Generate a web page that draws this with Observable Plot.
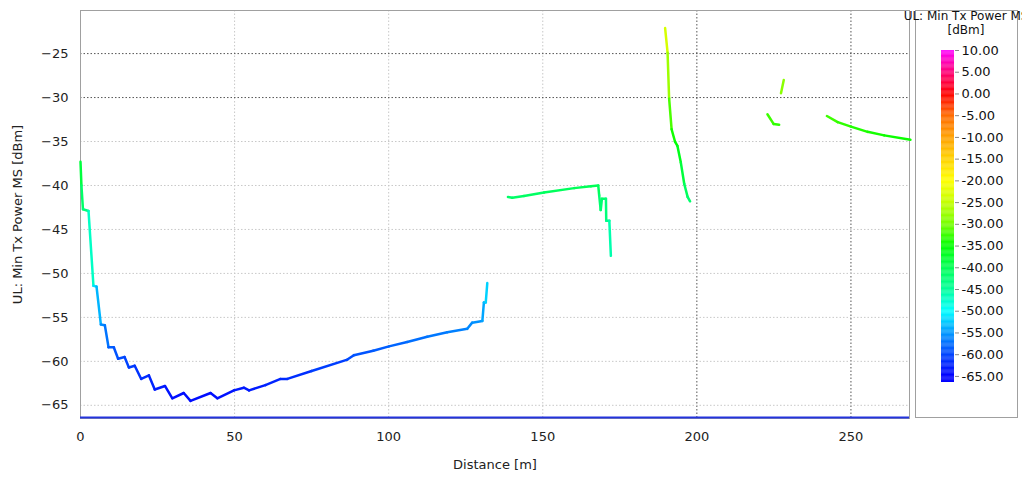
<!DOCTYPE html>
<html><head><meta charset="utf-8">
<script src="https://cdn.jsdelivr.net/npm/d3@7"></script>
<script src="https://cdn.jsdelivr.net/npm/@observablehq/plot@0.6"></script>
<style>
body{margin:0;background:#fff;font-family:"DejaVu Sans",sans-serif;}
#wrap{position:relative;width:1022px;height:479px;overflow:hidden;}
#chart{position:absolute;left:0;top:0;}
#lbox{position:absolute;left:915px;top:10px;width:103px;height:408px;border:1px solid #a0a0a0;box-sizing:border-box;}
#legend{position:absolute;left:915px;top:10px;}
#ltitle{position:absolute;left:966px;top:9px;transform:translateX(-50%);white-space:nowrap;text-align:center;font-size:12px;line-height:14px;color:#111;}
</style></head><body>
<div id="wrap"><div id="chart"></div><div id="lbox"></div><div id="legend"></div>
<div id="ltitle">UL: Min Tx Power MS<br>[dBm]</div></div>
<script>
// Segment data: distance [m] and UL Min Tx Power MS [dBm]
const seg1Distance = [0, 0.3, 0.8, 2.6, 4.2, 5.2, 6.6, 7.9, 9.1, 10.8, 12.2, 14.3, 15.7, 17.6, 19.7, 22.2, 24.1, 27.4, 29.8, 33.5, 35.7, 42.2, 44.4, 49.8, 53.0, 54.7, 60.0, 64.9, 67.1, 75.0, 86.6, 88.7, 95.0, 100.1, 106.0, 112.5, 119.0, 125.5, 127.1, 130.4, 130.9, 131.5, 132.0];
const seg1Power    = [-37.3, -40.0, -42.7, -42.9, -51.4, -51.5, -55.8, -55.9, -58.4, -58.4, -59.7, -59.5, -60.7, -60.5, -62.0, -61.6, -63.2, -62.8, -64.2, -63.6, -64.5, -63.6, -64.2, -63.3, -63.0, -63.3, -62.7, -62.0, -62.0, -61.1, -59.8, -59.3, -58.8, -58.3, -57.8, -57.2, -56.7, -56.3, -55.6, -55.4, -53.3, -53.3, -51.1];
const seg2Distance = [138.7, 140.1, 143.9, 150.4, 160.2, 165.6, 168.0, 168.3, 168.8, 169.2, 170.5, 170.6, 171.6, 172.1];
const seg2Power    = [-41.3, -41.4, -41.2, -40.8, -40.3, -40.1, -40.0, -41.1, -42.8, -41.5, -41.5, -44.0, -44.0, -48.0];
const seg3Distance = [189.7, 190.5, 191.0, 191.8, 192.9, 193.7, 194.8, 195.9, 197.0, 197.8];
const seg3Power    = [-22.1, -24.9, -30.1, -33.6, -35.0, -35.5, -37.4, -39.8, -41.3, -41.8];
const seg4Distance = [222.9, 224.9, 226.7];
const seg4Power    = [-31.9, -33.0, -33.1];
const seg5Distance = [227.3, 228.2];
const seg5Power    = [-29.5, -28.0];
const seg6Distance = [242.2, 245.7, 250.0, 255.4, 260.8, 269.3];
const seg6Power    = [-32.1, -32.8, -33.3, -33.9, -34.3, -34.8];

const xTicks = [0, 50, 100, 150, 200, 250];
const yTicks = [-65, -60, -55, -50, -45, -40, -35, -30, -25];
const legendTicks = [10, 5, 0, -5, -10, -15, -20, -25, -30, -35, -40, -45, -50, -55, -60, -65];
const colorStops = [-65, -60, -55, -50, -45, -40, -35, -30, -25, -20, -15, -10, -5, 0, 5, 10];
const colorRange = ["#0000ff", "#0044ff", "#0099ff", "#00ffff", "#00ff99", "#00ff55", "#00ff00", "#77ff00", "#c4ff00", "#ffff00", "#ffd200", "#ffa000", "#ff6a00", "#ff0000", "#ff0077", "#ff00ff"];

const segments = [
  [seg1Distance, seg1Power], [seg2Distance, seg2Power], [seg3Distance, seg3Power],
  [seg4Distance, seg4Power], [seg5Distance, seg5Power], [seg6Distance, seg6Power]
];
const links = [];
segments.forEach(([xs, ys]) => {
  for (let i = 1; i < xs.length; i++) {
    links.push({x1: xs[i-1], y1: ys[i-1], x2: xs[i], y2: ys[i], v: (ys[i-1] + ys[i]) / 2});
  }
});

const colorOpts = {type: "linear", domain: colorStops, range: colorRange, interpolate: "rgb", clamp: true};

const chart = Plot.plot({
  width: 1022, height: 479,
  marginLeft: 80, marginRight: 113, marginTop: 10, marginBottom: 61,
  style: {fontFamily: "DejaVu Sans, sans-serif", fontSize: "12px", color: "#222", background: "transparent"},
  x: {domain: [0, 269]},
  y: {domain: [-66.5, -20.1]},
  color: colorOpts,
  marks: [
    Plot.gridX([50, 100, 150], {stroke: "#c8c8c8", strokeOpacity: 1, strokeDasharray: "1.5,2"}),
    Plot.gridX([200, 250], {stroke: "#555", strokeOpacity: 1, strokeDasharray: "1.5,2"}),
    Plot.gridY([-65, -60, -55, -50, -45, -40, -35], {stroke: "#c8c8c8", strokeOpacity: 1, strokeDasharray: "1.5,2"}),
    Plot.gridY([-30, -25], {stroke: "#555", strokeOpacity: 1, strokeDasharray: "1.5,2"}),
    Plot.frame({stroke: "#a0a0a0"}),
    Plot.ruleY([-66.5], {stroke: "#2233dd", strokeWidth: 2, dy: -1}),
    Plot.link(links, {x1: "x1", y1: "y1", x2: "x2", y2: "y2", stroke: "v", strokeWidth: 2.5, strokeLinecap: "round"}),
    Plot.axisX({ticks: xTicks, tickSize: 0, tickPadding: 13, fontSize: 13, label: "Distance [m]", labelAnchor: "center", labelOffset: 50, labelArrow: "none"}),
    Plot.axisY({ticks: yTicks, tickSize: 0, tickPadding: 12, fontSize: 13, label: "UL: Min Tx Power MS [dBm]", labelAnchor: "center", labelOffset: 68, labelArrow: "none"})
  ]
});
document.getElementById("chart").appendChild(chart);

const bandStep = 0.2;
const bands = d3.range(-66.4, 10, bandStep);
const legend = Plot.plot({
  width: 103, height: 408,
  marginLeft: 26, marginRight: 64, marginTop: 40, marginBottom: 36,
  style: {fontFamily: "DejaVu Sans, sans-serif", fontSize: "12px", color: "#111", background: "transparent", overflow: "visible"},
  x: {axis: null, domain: [0, 1]},
  y: {domain: [-66.4, 10], axis: null},
  color: colorOpts,
  marks: [
    Plot.rect(bands, {x1: 0, x2: 1, y1: d => d, y2: d => Math.min(10, d + bandStep + 0.05), fill: d => d + bandStep / 2}),
    Plot.axisY({anchor: "right", ticks: legendTicks, tickFormat: d => d.toFixed(2), tickSize: 4, tickPadding: 3, fontSize: 13, label: null, stroke: "#888"})
  ]
});
document.getElementById("legend").appendChild(legend);
</script>
</body></html>
